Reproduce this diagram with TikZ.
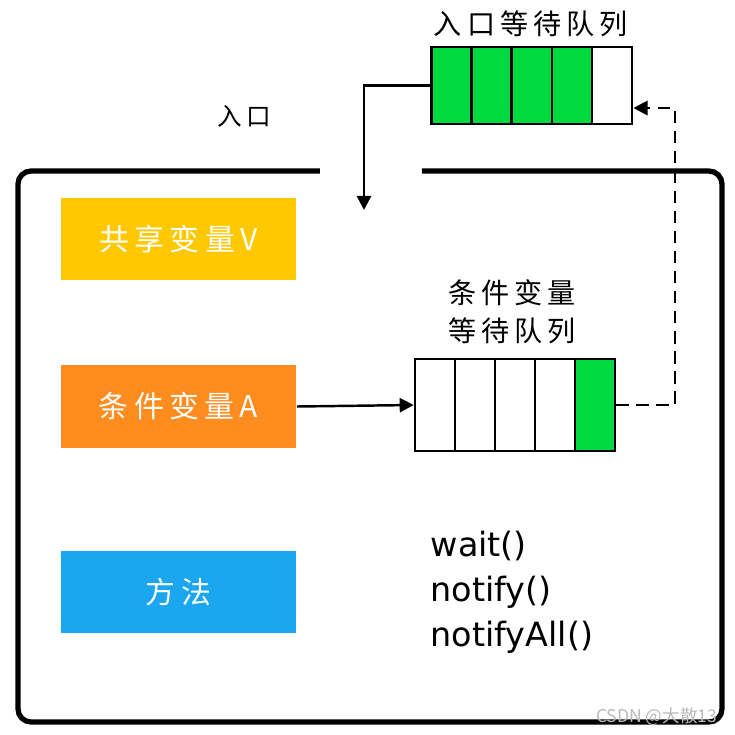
\documentclass[tikz,border=0pt]{standalone}
\usepackage{fontspec}
\setmainfont{DejaVu Sans}
\newfontfamily\cjk[LetterSpace=18]{Noto Sans CJK SC}
\newfontfamily\cjkmark{Noto Sans CJK SC}
\usetikzlibrary{arrows.meta}
\definecolor{qgreen}{HTML}{00D940}
\definecolor{varyellow}{HTML}{FFC800}
\definecolor{varorange}{HTML}{FF8C1E}
\definecolor{methblue}{HTML}{1BA6F0}

\begin{document}
\begin{tikzpicture}[x=0.01cm, y=-0.01cm,
    cell/.style={rectangle, draw, line width=0.7pt, minimum width=0.4cm, inner sep=0pt},
    colbox/.style={rectangle, minimum width=2.35cm, minimum height=0.82cm, text=white, font=\cjk\fontsize{8.5}{10}\selectfont},
    lbl/.style={font=\cjk\fontsize{8}{10.8}\selectfont},
    tip/.style={-{Triangle[length=4pt,width=4pt]}}]
  \useasboundingbox (0,0) rectangle (735,735);
  % monitor frame, open at the entrance
  \draw[line width=1.5pt, rounded corners=0.13cm] (320,171) -- (18,171) -- (18,722) -- (722,722) -- (722,171) -- (422,171);

  % entry wait queue
  \foreach \i/\c in {1/qgreen,2/qgreen,3/qgreen,4/qgreen,5/white}
    \node[cell, fill=\c, minimum height=0.77cm] (e\i) at ({411.2+40.2*\i},85.5) {};
  \node[lbl] (etitle) at (531,24) {入口等待队列};
  \node[font=\cjk\fontsize{7}{9}\selectfont] (entry) at (244,116) {入口};

  % boxes on the left
  \node[colbox, fill=varyellow] (varV) at (178.5,239) {共享变量V};
  \node[colbox, fill=varorange] (varA) at (178.5,406.5) {条件变量A};
  \node[colbox, fill=methblue] (meth) at (178.5,592) {方法};

  % condition wait queue
  \foreach \i/\c in {1/white,2/white,3/white,4/white,5/qgreen}
    \node[cell, fill=\c, minimum height=0.92cm] (c\i) at ({395+40*\i},405) {};
  \node[lbl, align=center] (ctitle) at (512,312) {条件变量\\等待队列};

  \node[anchor=west, align=left, inner sep=0pt, font=\fontsize{9.5}{12.8}\selectfont] (api) at (430,592) {wait()\\notify()\\notifyAll()};

  % arrows
  \coordinate (inpt) at (364,210);
  \draw[line width=0.7pt, tip] (e1.west) -| (inpt);
  \draw[line width=0.7pt, tip] (varA.east) -- (c1.west);
  \coordinate (dturn) at (675,108);
  \draw[line width=0.8pt, dash pattern=on 3.5pt off 2.2pt, tip] (c5.east) -| (dturn) -- (e5.east |- dturn);

  \node[anchor=south east, inner sep=0pt, text=gray!55, font=\cjkmark\fontsize{5}{6}\selectfont] (mark) at (718,726) {CSDN @大散13};
\end{tikzpicture}
\end{document}
